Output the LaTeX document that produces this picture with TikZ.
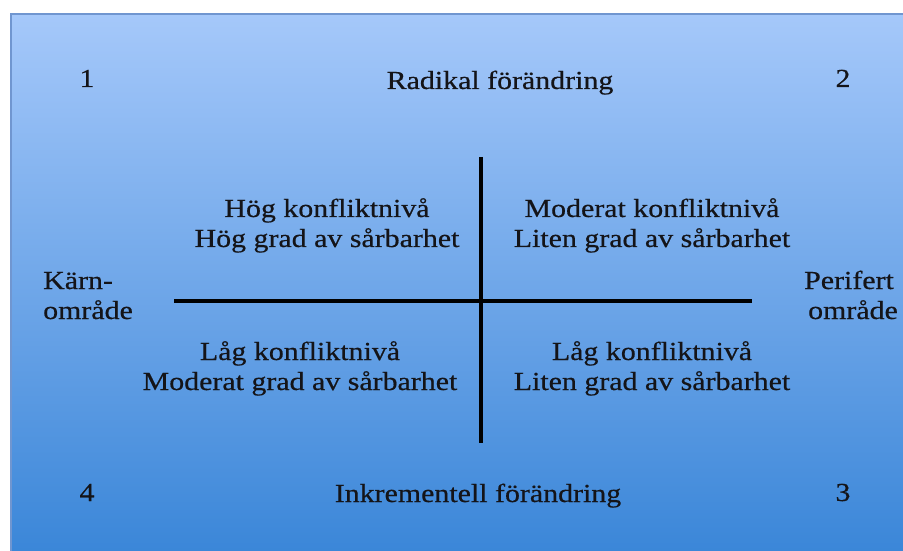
\documentclass[tikz,border=0pt]{standalone}
\usepackage{fontspec}
\setmainfont{Liberation Serif}[FakeStretch=1.15,FakeBold=0.5]
\definecolor{panelTop}{RGB}{165,200,250}
\definecolor{panelBottom}{RGB}{58,134,216}
\definecolor{panelEdge}{RGB}{112,150,208}
\definecolor{inkText}{RGB}{20,20,24}
\begin{document}
\begin{tikzpicture}[x=1pt,y=1pt,
  label/.style={inner sep=0pt,anchor=base,text=inkText,font=\fontsize{26}{30}\selectfont},
  axis/.style={line width=3.8pt,draw=black}]
\useasboundingbox (0,0) rectangle (903,550);
\fill[white] (0,0) rectangle (903,550);
% gradient panel
\shade[top color=panelTop,bottom color=panelBottom] (11,-5) rectangle (910,536);
\draw[panelEdge,line width=1.4pt] (11,-5) -- (11,536) -- (910,536);
% corner numbers
\node[label] (n1) at (87,463) {1};
\node[label] (n2) at (843,463) {2};
\node[label] (n3) at (843,49) {3};
\node[label] (n4) at (87,49) {4};
% top and bottom captions
\node[label] (top) at (500,461) {Radikal förändring};
\node[label] (bottom) at (478,48) {Inkrementell förändring};
% side captions
\node[label,anchor=base west] (kl1) at (43,261) {Kärn-};
\node[label,anchor=base west] (kl2) at (43,231) {område};
\node[label] (pl1) at (849,261) {Perifert};
\node[label] (pl2) at (853,231) {område};
% quadrant texts
\node[label] (tl1) at (327,333) {Hög konfliktnivå};
\node[label] (tl2) at (327,303) {Hög grad av sårbarhet};
\node[label] (tr1) at (652,333) {Moderat konfliktnivå};
\node[label] (tr2) at (652,303) {Liten grad av sårbarhet};
\node[label] (bl1) at (300,190) {Låg konfliktnivå};
\node[label] (bl2) at (300,160) {Moderat grad av sårbarhet};
\node[label] (br1) at (652,190) {Låg konfliktnivå};
\node[label] (br2) at (652,160) {Liten grad av sårbarhet};
% axes
\coordinate (vtop) at (481,393);
\coordinate (vbot) at (481,107);
\coordinate (hleft) at (174,249);
\coordinate (hright) at (752,249);
\draw[axis] (vtop) -- (vbot);
\draw[axis] (hleft) -- (hright);
\end{tikzpicture}
\end{document}
